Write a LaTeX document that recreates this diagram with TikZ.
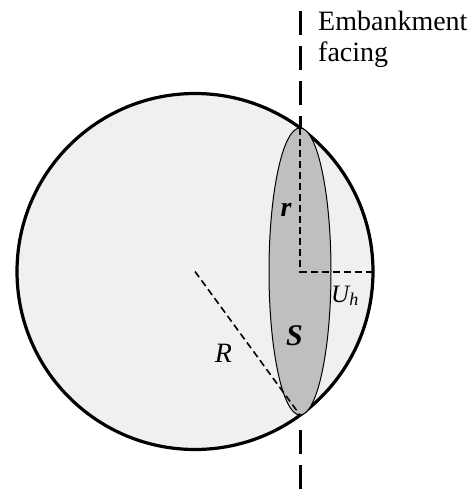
\documentclass[tikz,border=0pt]{standalone}
\usepackage{fontspec}
\setmainfont{Liberation Serif}
\begin{document}
\begin{tikzpicture}[x=1pt,y=-1pt,
  outer/.style={line width=3.2pt,fill=black!6},
  lens/.style={line width=1pt,fill=black!25},
  thick dash/.style={line width=3pt,dash pattern=on 24pt off 11pt},
  thin dash/.style={line width=2pt,dash pattern=on 7pt off 4pt},
  lbl/.style={inner sep=0pt,anchor=base}]
\useasboundingbox (0,0) rectangle (475,491);
\coordinate (O) at (195,271.5);
\coordinate (P) at (300,128);
\coordinate (Q) at (300,415);
\coordinate (C) at (300,271.5);
\coordinate (E) at (373,271.5);
\coordinate (T) at (300,11);
\coordinate (B1) at (300,430);
\coordinate (B2) at (300,491);
\draw[outer] (O) circle [radius=178];
\draw[lens] (C) ellipse [x radius=31, y radius=143.5];
\draw[thin dash] (P) -- (C) -- (E);
\draw[line width=1.6pt,dash pattern=on 7pt off 4pt] (O) -- (Q);
\draw[thick dash] (T) -- (P);
\draw[thick dash] (B1) -- (B2);
\node[inner sep=0pt,anchor=north west,align=left,font=\fontsize{28}{31}\selectfont] (emb) at (318,11) {Embankment\\facing};
\node[lbl,font=\fontsize{28}{28}\selectfont\bfseries\itshape] (r) at (286,216) {r};
\node[lbl,anchor=base west,font=\fontsize{25}{25}\selectfont\itshape] (uh) at (331,302) {U\raisebox{-3pt}{\fontsize{18}{18}\selectfont h}};
\node[lbl,font=\fontsize{30}{30}\selectfont\bfseries\itshape] (S) at (294.5,345) {S};
\node[lbl,font=\fontsize{28}{28}\selectfont\itshape] (R) at (223.5,362) {R};
\end{tikzpicture}
\end{document}
